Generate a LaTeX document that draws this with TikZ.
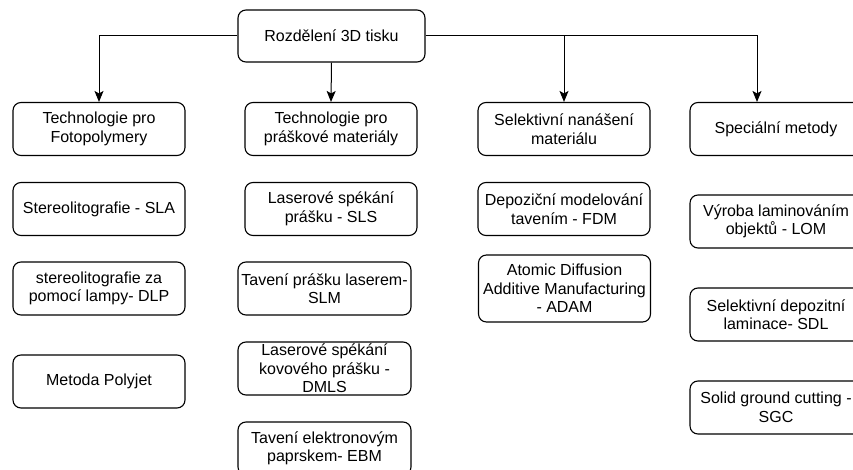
\documentclass[tikz,border=0pt]{standalone}
\usepackage{fontspec}
\setmainfont{Liberation Sans}
\usetikzlibrary{arrows.meta}

\begin{document}
\begin{tikzpicture}[x=1pt,y=-1pt,
  box/.style={draw=black, line width=1.1pt, rounded corners=8pt, align=center,
    inner sep=0pt, minimum width=172pt, minimum height=53pt,
    font=\fontsize{16}{18.5}\selectfont},
  arr/.style={draw=black, line width=1pt,
    -{Stealth[length=11pt,width=9pt,inset=2.5pt]}}]
\useasboundingbox (0,0) rectangle (853,470);

% root
\node[box, minimum width=187pt, minimum height=52pt] (root) at (331.5,36) {Rozdělení 3D tisku};

% main categories
\node[box] (foto)  at (99,129)  {Technologie pro\\Fotopolymery};
\node[box] (prask) at (331,129) {Technologie pro\\práškové materiály};
\node[box] (sel)   at (564,129) {Selektivní nanášení\\materiálu};
\node[box] (spec)  at (776,129) {Speciální metody};

% photopolymers
\node[box] (sla)  at (99,209)   {Stereolitografie - SLA};
\node[box] (dlp)  at (99,288.5) {stereolitografie za\\pomocí lampy- DLP};
\node[box] (poly) at (99,381.5) {Metoda Polyjet};

% powder materials
\node[box] (sls)  at (331,209)   {Laserové spékání\\prášku - SLS};
\node[box, minimum width=173pt] (slm)  at (324.5,288.5) {Tavení prášku laserem-\\SLM};
\node[box, minimum width=173pt] (dmls) at (324.5,368.5) {Laserové spékání\\kovového prášku -\\DMLS};
\node[box, minimum width=173pt] (ebm)  at (324.5,448.5) {Tavení elektronovým\\paprskem- EBM};

% selective deposition
\node[box] (fdm)  at (564,209) {Depoziční modelování\\tavením - FDM};
\node[box, minimum height=67pt] (adam) at (564.5,288.5) {Atomic Diffusion\\Additive Manufacturing\\- ADAM};

% special methods
\node[box] (lom) at (776,221.5) {Výroba laminováním\\objektů - LOM};
\node[box] (sdl) at (776,314.5) {Selektivní depozitní\\laminace- SDL};
\node[box] (sgc) at (776,407.5) {Solid ground cutting -\\SGC};

% connectors
\coordinate (specin) at ([xshift=-19pt]spec.north);
\draw[arr] (root.west) -| (foto.north);
\draw[arr] (root.south) -- (prask.north);
\draw[arr] (root.east) -| (sel.north);
\draw[arr] (root.east) -| (specin);
\end{tikzpicture}
\end{document}
